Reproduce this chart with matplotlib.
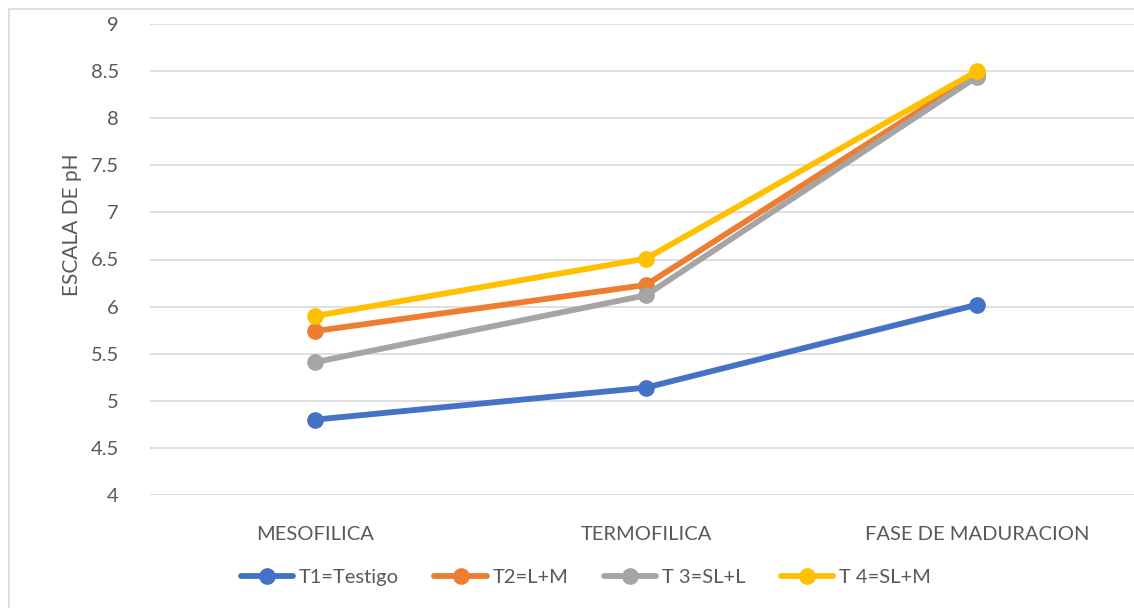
import matplotlib
matplotlib.use("Agg")
import matplotlib.pyplot as plt
from matplotlib.patches import Rectangle

categories = ["MESOFILICA", "TERMOFILICA", "FASE DE MADURACION"]
series_names = ["T1=Testigo", "T2=L+M", "T 3=SL+L", "T 4=SL+M"]
t1 = [4.80, 5.14, 6.02]
t2 = [5.74, 6.23, 8.47]
t3 = [5.41, 6.12, 8.44]
t4 = [5.90, 6.51, 8.50]
colors = ["#4472C4", "#ED7D31", "#A5A5A5", "#FFC000"]
yticks = [4, 4.5, 5, 5.5, 6, 6.5, 7, 7.5, 8, 8.5, 9]
ytick_labels = ["4", "4.5", "5", "5.5", "6", "6.5", "7", "7.5", "8", "8.5", "9"]

plt.rcParams['font.family'] = ['Lato', 'DejaVu Sans']
txt = "#595959"

W, H = 1134, 608
fig = plt.figure(figsize=(W / 100, H / 100), dpi=100)
fig.patches.append(Rectangle((9 / W, -0.01), 1.1, 1 - 9 / H + 0.01, transform=fig.transFigure,
                             fill=False, edgecolor="#D9D9D9", linewidth=1.2))

left, right = 149.5 / W, 1142.5 / W
top, bottom = 1 - 24 / H, 1 - 495 / H
ax = fig.add_axes([left, bottom, right - left, top - bottom])

x = list(range(len(categories)))
handles = []
for vals, name, c in zip([t1, t2, t3, t4], series_names, colors):
    h, = ax.plot(x, vals, color=c, linewidth=4.2, marker='o', markersize=11,
                 markeredgecolor=c, label=name, zorder=3, solid_capstyle='round')
    handles.append(h)

ax.set_xlim(-0.5, 2.5)
ax.set_ylim(4, 9)
ax.set_yticks(yticks)
ax.set_yticklabels(ytick_labels)
ax.set_xticks(x)
ax.set_xticklabels(categories)
ax.grid(axis='y', color="#D9D9D9", linewidth=1.2, zorder=0)
ax.set_axisbelow(True)
for s in ax.spines.values():
    s.set_visible(False)
ax.tick_params(axis='both', length=0, colors=txt, labelsize=14.5)
ax.tick_params(axis='y', pad=22)
ax.tick_params(axis='x', pad=22)
fig.text(72 / W, 1 - 225 / H, "ESCALA DE pH", color=txt, fontsize=15,
         rotation=90, ha='center', va='center')

fig.legend(handles=handles, loc='center', bbox_to_anchor=(586 / W, 1 - 577 / H),
           ncol=4, frameon=False, fontsize=14.5, handlelength=2.6, handletextpad=0.3,
           columnspacing=1.75, labelcolor=txt)

fig.savefig("out.png", dpi=100)
